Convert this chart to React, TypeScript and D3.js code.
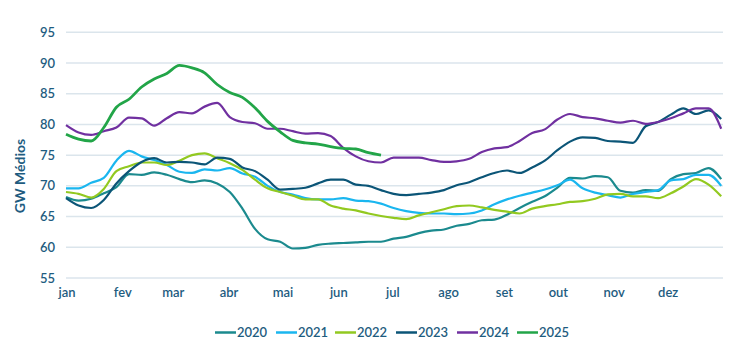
import React from "react";
import * as d3 from "d3";

const monthLabels = ["jan", "fev", "mar", "abr", "mai", "jun", "jul", "ago", "set", "out", "nov", "dez"];
const monthStartDays = [0, 31, 59, 90, 120, 151, 181, 212, 243, 273, 304, 334];
const yTicks = [55, 60, 65, 70, 75, 80, 85, 90, 95];
const seriesNames = ["2020", "2021", "2022", "2023", "2024", "2025"];
const seriesColors = ["#1b8a8e", "#1ab6ef", "#92c920", "#0b5577", "#7030a0", "#22a548"];
// sampled every 7 days, starting at day 0
const s2020 = [68.2, 67.6, 67.9, 68.8, 69.8, 71.9, 71.8, 72.2, 71.8, 71.1, 70.6, 70.9, 70.4, 69.0, 66.3, 63.0, 61.3, 60.9, 59.8, 59.9, 60.4, 60.6, 60.7, 60.8, 60.9, 60.9, 61.4, 61.7, 62.3, 62.7, 62.9, 63.5, 63.8, 64.4, 64.5, 65.3, 66.4, 67.4, 68.3, 69.7, 71.3, 71.2, 71.6, 71.4, 69.2, 68.9, 69.3, 69.2, 71.1, 71.9, 72.1, 72.9, 71.1];
const s2021 = [69.6, 69.6, 70.5, 71.3, 74.1, 75.7, 74.8, 74.2, 73.4, 72.3, 72.1, 72.7, 72.5, 72.9, 72.0, 71.5, 70.0, 69.0, 68.6, 68.0, 67.8, 67.8, 68.0, 67.6, 67.5, 67.1, 66.4, 65.9, 65.6, 65.5, 65.5, 65.4, 65.5, 66.0, 67.0, 67.8, 68.4, 68.9, 69.4, 70.1, 71.0, 69.6, 68.9, 68.5, 68.1, 68.7, 69.0, 69.3, 70.9, 71.1, 71.8, 71.8, 70.0];
const s2022 = [69.0, 68.7, 68.1, 69.5, 72.4, 73.2, 73.8, 73.8, 73.4, 74.1, 75.0, 75.3, 74.5, 73.7, 72.6, 71.0, 69.6, 69.0, 68.4, 67.8, 67.8, 66.8, 66.3, 66.0, 65.5, 65.1, 64.8, 64.6, 65.2, 65.7, 66.2, 66.7, 66.8, 66.5, 66.1, 65.8, 65.5, 66.3, 66.7, 67.0, 67.4, 67.5, 67.9, 68.6, 68.7, 68.3, 68.3, 68.0, 68.8, 69.9, 71.1, 70.2, 68.3];
const s2023 = [68.0, 66.8, 66.4, 67.7, 70.4, 72.4, 73.9, 74.5, 73.8, 73.9, 73.8, 73.5, 74.6, 74.4, 73.0, 72.4, 71.0, 69.4, 69.5, 69.7, 70.4, 71.0, 71.0, 70.2, 70.0, 69.3, 68.7, 68.5, 68.7, 68.9, 69.3, 70.1, 70.6, 71.4, 72.1, 72.5, 72.1, 73.0, 74.1, 75.8, 77.2, 77.9, 77.8, 77.3, 77.2, 77.0, 79.7, 80.4, 81.6, 82.6, 81.7, 82.3, 80.9];
const s2024 = [79.9, 78.7, 78.3, 78.9, 79.5, 81.1, 81.0, 79.8, 81.0, 82.0, 81.8, 82.9, 83.5, 81.2, 80.4, 80.2, 79.3, 79.3, 78.9, 78.5, 78.6, 78.1, 76.2, 74.8, 74.0, 73.8, 74.6, 74.6, 74.6, 74.2, 73.9, 74.0, 74.4, 75.5, 76.1, 76.3, 77.3, 78.6, 79.2, 80.8, 81.7, 81.2, 81.0, 80.6, 80.3, 80.6, 80.1, 80.4, 81.0, 81.8, 82.6, 82.6, 79.3];
const s2025 = [78.4, 77.6, 77.3, 79.5, 82.8, 84.1, 86.1, 87.4, 88.3, 89.6, 89.2, 88.4, 86.5, 85.2, 84.4, 82.7, 80.5, 78.8, 77.4, 77.0, 76.8, 76.4, 76.1, 76.0, 75.4, 75.0];

const seriesValues = [s2020, s2021, s2022, s2023, s2024, s2025];

const W = 754, H = 358;
const left = 66, right = 723, top = 32.3, bottom = 278;
const textColor = "#1e5c80";
const font = "Lato, 'Open Sans', sans-serif";

export default function App() {
  const x = d3.scaleLinear().domain([0, 365]).range([left, right]);
  const y = d3.scaleLinear().domain([55, 95]).range([bottom, top]);
  const line = d3
    .line<number>()
    .x((_, i) => x(i * 7))
    .y((d) => y(d))
    .curve(d3.curveMonotoneX);

  const legendX = [215, 276, 335, 396, 457, 517];

  return (
    <svg
      width={W}
      height={H}
      style={{ position: "absolute", left: 0, top: 0, background: "#fff" }}
      fontFamily={font}
    >
      {yTicks.map((t) => (
        <g key={t}>
          <line x1={left} x2={right} y1={y(t)} y2={y(t)} stroke="#dbe5ec" strokeWidth={1.5} />
          <text x={55} y={y(t)} dy="0.35em" textAnchor="end" fontSize={13} fontWeight={600} fill={textColor}>
            {t}
          </text>
        </g>
      ))}
      {monthLabels.map((m, i) => (
        <text key={m} x={x(monthStartDays[i]) + 1} y={297} textAnchor="middle" fontSize={13} fontWeight={600} fill={textColor}>
          {m}
        </text>
      ))}
      <text
        transform={`translate(25,176) rotate(-90)`}
        textAnchor="middle"
        fontSize={14}
        fontWeight={700}
        fill={textColor}
      >
        GW Médios
      </text>
      {seriesValues.map((vals, i) => (
        <path
          key={seriesNames[i]}
          d={line(vals) || ""}
          fill="none"
          stroke={seriesColors[i]}
          strokeWidth={i === 5 ? 2.8 : 2.2}
          strokeLinejoin="round"
        />
      ))}
      {seriesNames.map((n, i) => (
        <g key={n}>
          <line x1={legendX[i]} x2={legendX[i] + 21} y1={332.5} y2={332.5} stroke={seriesColors[i]} strokeWidth={2.5} />
          <text x={legendX[i] + 22} y={332.5} dy="0.35em" fontSize={13} fontWeight={600} fill={textColor}>
            {n}
          </text>
        </g>
      ))}
    </svg>
  );
}
